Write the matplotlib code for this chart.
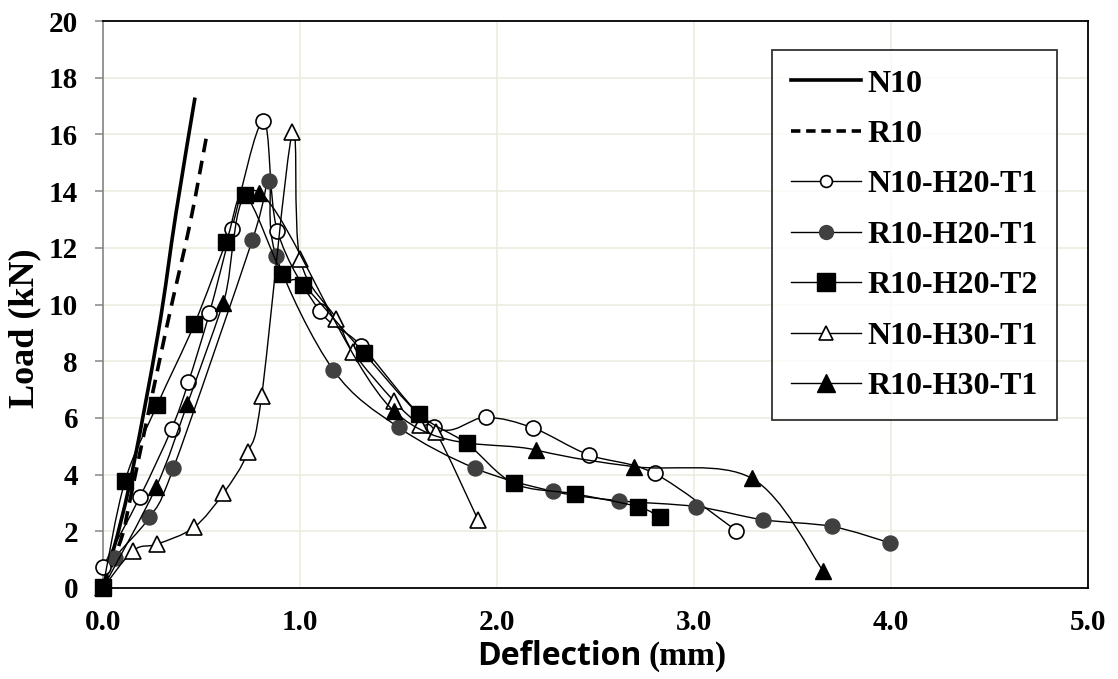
import numpy as np
import matplotlib
matplotlib.use("Agg")
import matplotlib.pyplot as plt
from matplotlib.path import Path
from matplotlib.patches import PathPatch
from matplotlib.lines import Line2D

# Load-deflection data (deflection in mm, load in kN)
n10_x = [0.0, 0.13, 0.28, 0.37, 0.467]
n10_y = [0.0, 3.5, 9.0, 13.2, 17.3]

r10_x = [0.0, 0.10, 0.137, 0.32, 0.44, 0.526]
r10_y = [0.0, 1.9, 3.1, 9.1, 12.8, 15.95]

n10h20t1_x = [0.0, 0.188, 0.348, 0.433, 0.540, 0.653, 0.814, 0.885, 1.10, 1.31,
              1.68, 1.942, 2.185, 2.465, 2.80, 3.215]
n10h20t1_y = [0.75, 3.22, 5.61, 7.25, 9.69, 12.66, 16.46, 12.60, 9.78, 8.55,
              5.69, 6.02, 5.64, 4.70, 4.04, 2.02]

r10h20t1_x = [0.0, 0.06, 0.235, 0.357, 0.758, 0.843, 0.878, 1.169, 1.50, 1.89,
              2.285, 2.62, 3.012, 3.348, 3.70, 3.995]
r10h20t1_y = [0.0, 1.05, 2.49, 4.22, 12.27, 14.37, 11.72, 7.69, 5.67, 4.22,
              3.41, 3.08, 2.87, 2.41, 2.17, 1.59]

r10h20t2_x = [0.0, 0.112, 0.276, 0.464, 0.624, 0.720, 0.911, 1.017, 1.325, 1.604,
              1.846, 2.086, 2.396, 2.714, 2.827]
r10h20t2_y = [0.05, 3.78, 6.47, 9.31, 12.19, 13.86, 11.08, 10.69, 8.28, 6.14,
              5.10, 3.69, 3.32, 2.87, 2.49]

n10h30t1_x = [0.0, 0.154, 0.276, 0.462, 0.611, 0.735, 0.805, 0.961, 1.0, 1.185,
              1.27, 1.475, 1.607, 1.69, 1.904]
n10h30t1_y = [0.0, 1.32, 1.55, 2.14, 3.34, 4.78, 6.76, 16.07, 11.6, 9.49,
              8.31, 6.61, 5.76, 5.49, 2.40]

r10h30t1_x = [0.0, 0.269, 0.428, 0.611, 0.794, 1.475, 2.196, 2.696, 3.293, 3.657]
r10h30t1_y = [0.0, 3.55, 6.49, 10.07, 13.95, 6.25, 4.87, 4.28, 3.87, 0.59]

x_ticks = [0.0, 1.0, 2.0, 3.0, 4.0, 5.0]
y_ticks = list(range(0, 21, 2))

SERIF = "Liberation Serif"
SANS = "Open Sans"
GRAY = "#404040"


def smooth_path(x, y, k=1.0 / 6.0):
    """Cubic Bezier path through the points (Catmull-Rom style smoothing)."""
    p = np.column_stack([x, y]).astype(float)
    n = len(p)
    verts = [p[0]]
    codes = [Path.MOVETO]
    for i in range(n - 1):
        p0 = p[i - 1] if i > 0 else p[i]
        p1, p2 = p[i], p[i + 1]
        p3 = p[i + 2] if i + 2 < n else p[i + 1]
        verts += [p1 + (p2 - p0) * k, p2 - (p3 - p1) * k, p2]
        codes += [Path.CURVE4] * 3
    return Path(verts, codes)


fig = plt.figure(figsize=(11.18, 6.79), dpi=100)
ax = fig.add_axes([103 / 1118, 91 / 679, 985 / 1118, 567 / 679])
ax.set_xlim(0, 5)
ax.set_ylim(0, 20)

# grid
ax.set_xticks(x_ticks)
ax.set_yticks(y_ticks)
ax.grid(True, color="#EEECE1", linewidth=1.2, zorder=0)
ax.set_axisbelow(True)

# plain reference curves
ax.add_patch(PathPatch(smooth_path(n10_x, n10_y), fc="none", ec="black",
                       lw=2.6, zorder=3, capstyle="butt"))
ax.add_patch(PathPatch(smooth_path(r10_x, r10_y), fc="none", ec="black",
                       lw=2.6, ls=(0, (3.8, 2.4)), zorder=3, capstyle="butt"))

series = [
    (n10h20t1_x, n10h20t1_y, dict(marker="o", ms=10.8, mfc="white", mec="black", mew=1.2), 4),
    (r10h20t1_x, r10h20t1_y, dict(marker="o", ms=10.8, mfc=GRAY, mec=GRAY, mew=1.0), 4),
    (r10h20t2_x, r10h20t2_y, dict(marker="s", ms=12.0, mfc="black", mec="black", mew=1.0), 8),
    (n10h30t1_x, n10h30t1_y, dict(marker="^", ms=11.0, mfc="white", mec="black", mew=1.2), 5),
    (r10h30t1_x, r10h30t1_y, dict(marker="^", ms=12.0, mfc="black", mec="black", mew=1.0), 6),
]
for xs, ys, mk, z in series:
    ax.add_patch(PathPatch(smooth_path(xs, ys), fc="none", ec="black", lw=1.0, zorder=z))
    ax.plot(xs, ys, ls="none", zorder=z + 0.5, clip_on=False, **mk)

# axes styling
for side in ["top", "right", "bottom"]:
    ax.spines[side].set_color("black")
    ax.spines[side].set_linewidth(1.3)
ax.spines["left"].set_color("#868686")
ax.spines["left"].set_linewidth(1.2)
ax.spines["left"].set_zorder(2.5)
ax.tick_params(axis="y", direction="out", length=6, width=1.1, color="#868686", pad=12)
ax.tick_params(axis="x", length=0, pad=15)
ax.set_xticklabels([f"{v:.1f}" for v in x_ticks], fontfamily=SERIF, fontweight="bold", fontsize=21)
ax.set_yticklabels([str(v) for v in y_ticks], fontfamily=SERIF, fontweight="bold", fontsize=21)

# axis titles
fig.text(25 / 1118, 1 - 328 / 679, "Load (kN)", rotation=90, ha="center", va="center",
         fontfamily=SERIF, fontweight="bold", fontsize=26)
fig.text(642 / 1118, 14 / 679, "Deflection", ha="right", va="baseline",
         fontfamily=SANS, fontweight="bold", fontsize=23)
fig.text(648 / 1118, 14 / 679, "(mm)", ha="left", va="baseline",
         fontfamily=SERIF, fontweight="bold", fontsize=24)

# legend
handles = [
    Line2D([], [], color="black", lw=2.6),
    Line2D([], [], color="black", lw=2.6, ls=(0, (2.6, 1.6))),
    Line2D([], [], color="black", lw=1.0, marker="o", ms=8.5, mfc="white", mec="black", mew=1.2),
    Line2D([], [], color="black", lw=1.0, marker="o", ms=10, mfc=GRAY, mec=GRAY),
    Line2D([], [], color="black", lw=1.0, marker="s", ms=12.5, mfc="black", mec="black"),
    Line2D([], [], color="black", lw=1.0, marker="^", ms=9.5, mfc="white", mec="black", mew=1.2),
    Line2D([], [], color="black", lw=1.0, marker="^", ms=12.5, mfc="black", mec="black"),
]
labels = ["N10", "R10", "N10-H20-T1", "R10-H20-T1", "R10-H20-T2", "N10-H30-T1", "R10-H30-T1"]
leg = ax.legend(handles, labels, loc="upper left",
                bbox_to_anchor=((771.7 - 103) / 985, (588 - 50) / 567),
                borderaxespad=0, frameon=True, fancybox=False,
                prop=dict(family=SERIF, weight="bold", size=23),
                handlelength=2.2, handletextpad=0.2, labelspacing=0.66,
                borderpad=0.6)
leg.get_frame().set_edgecolor("black")
leg.get_frame().set_linewidth(1.3)
leg.set_zorder(20)

fig.savefig("out.png", dpi=100)
